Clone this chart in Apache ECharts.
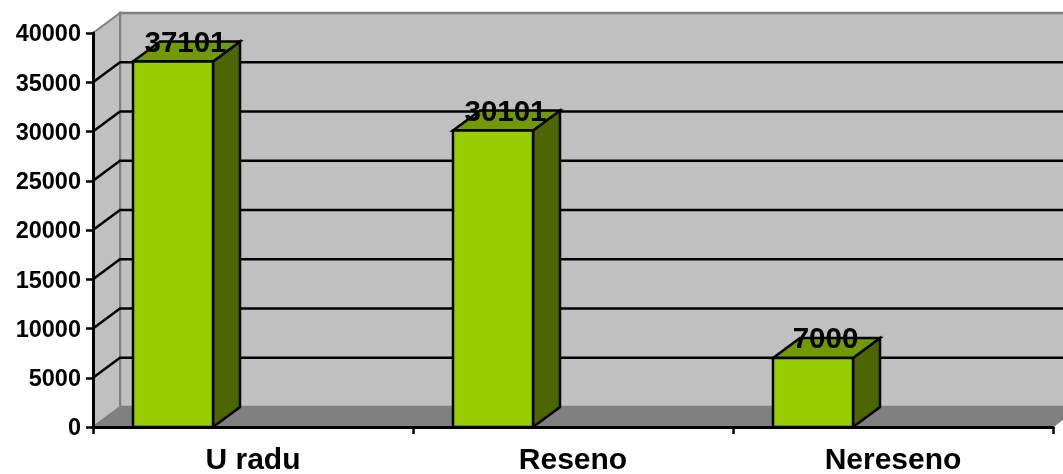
<!DOCTYPE html>
<html>
<head>
<meta charset="utf-8">
<style>html,body{margin:0;padding:0;background:#fff;overflow:hidden}#c{width:1063px;height:474px}</style>
<script src="https://cdn.jsdelivr.net/npm/echarts@6/dist/echarts.min.js"></script>
</head>
<body>
<div id="c"></div>
<script>
const categories = ['U radu', 'Reseno', 'Nereseno'];
const values = [37101, 30101, 7000];
const gridValues = [5000, 10000, 15000, 20000, 25000, 30000, 35000];
const axisMin = 0;
const axisMax = 40000;
const axisStep = 5000;

const FONT = '"Liberation Sans", Arial, sans-serif';
const DX = 27, DY = -20;
const WALL = '#C0C0C0', EDGE = '#808080', FLOOR = '#808080';
const FRONT = '#99CC00', TOP = '#739900', SIDE = '#4D6600';

function wallItem(params, api) {
  const cs = params.coordSys;
  const x0 = cs.x, x1 = cs.x + cs.width, yTop = cs.y, yBot = cs.y + cs.height;
  const children = [
    { type: 'rect', shape: { x: x0 + DX, y: yTop + DY, width: cs.width, height: cs.height },
      style: { fill: WALL, stroke: EDGE, lineWidth: 2.5 } },
    { type: 'polygon', shape: { points: [[x0, yTop], [x0 + DX, yTop + DY], [x0 + DX, yBot + DY], [x0, yBot]] },
      style: { fill: WALL, stroke: EDGE, lineWidth: 2 } },
    { type: 'polygon', shape: { points: [[x0, yBot], [x0 + DX, yBot + DY], [x1 + DX, yBot + DY], [x1, yBot]] },
      style: { fill: FLOOR, stroke: EDGE, lineWidth: 1 } }
  ];
  gridValues.forEach(v => {
    const y = api.coord([0, v])[1];
    children.push({ type: 'polyline',
      shape: { points: [[x0, y], [x0 + DX, y + DY], [x1 + DX, y + DY]] },
      style: { fill: 'none', stroke: '#000', lineWidth: 2.5 } });
  });
  return { type: 'group', children };
}

function barItem(params, api) {
  const p = api.coord([api.value(0), api.value(1)]);
  const base = api.coord([api.value(0), 0]);
  const band = api.size([1, 0])[0];
  const l = p[0] - band / 2 + band * 0.125;
  const r = l + band * 0.25;
  const t = p[1], b = base[1];
  const line = { stroke: '#000', lineWidth: 2.5, lineJoin: 'miter' };
  return { type: 'group', children: [
    { type: 'polygon', shape: { points: [[r, t], [r + DX, t + DY], [r + DX, b + DY], [r, b]] },
      style: Object.assign({ fill: SIDE }, line) },
    { type: 'polygon', shape: { points: [[l, t], [l + DX, t + DY], [r + DX, t + DY], [r, t]] },
      style: Object.assign({ fill: TOP }, line) },
    { type: 'rect', shape: { x: l, y: t, width: r - l, height: b - t },
      style: Object.assign({ fill: FRONT }, line) },
    { type: 'text', x: (l + r) / 2 + DX / 2 - 1, y: t + DY + 2,
      style: { text: String(api.value(1)), fill: '#000', font: 'bold 29.5px ' + FONT,
        align: 'center', verticalAlign: 'middle' } }
  ] };
}

const chart = echarts.init(document.getElementById('c'), null, { renderer: 'canvas' });
chart.setOption({
  animation: false,
  backgroundColor: '#fff',
  grid: { left: 93, right: 10, top: 33, bottom: 47, containLabel: false, outerBoundsMode: 'none' },
  xAxis: {
    type: 'category', data: categories, z: 5,
    axisLine: { onZero: false, lineStyle: { color: '#000', width: 3 } },
    axisTick: { show: true, length: 7, alignWithLabel: false, lineStyle: { color: '#000', width: 2.5 } },
    axisLabel: { color: '#000', fontFamily: FONT, fontWeight: 'bold', fontSize: 30, margin: 19, interval: 0 }
  },
  yAxis: {
    type: 'value', min: axisMin, max: axisMax, interval: axisStep, z: 5,
    splitLine: { show: false },
    axisLine: { show: true, lineStyle: { color: '#000', width: 3 } },
    axisTick: { show: true, length: 7, lineStyle: { color: '#000', width: 2.5 } },
    axisLabel: { color: '#000', fontFamily: FONT, fontWeight: 'bold', fontSize: 23.5, margin: 12,
      verticalAlign: 'top', lineHeight: 4, formatter: v => String(v) }
  },
  series: [
    { type: 'custom', name: 'walls', z: 1, clip: false, silent: true, renderItem: wallItem,
      data: [[0, 0]], encode: { x: 0, y: 1 } },
    { type: 'custom', name: 'bars', z: 2, clip: false, renderItem: barItem,
      data: values.map((v, i) => [i, v]), encode: { x: 0, y: 1 } }
  ]
});
</script>
</body>
</html>
